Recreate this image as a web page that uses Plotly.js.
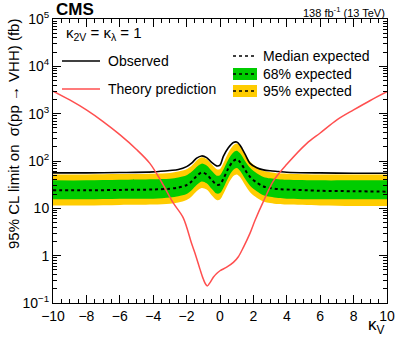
<!DOCTYPE html>
<html>
<head>
<meta charset="utf-8">
<script src="https://cdn.plot.ly/plotly-3.0.1.min.js"></script>
<style>html,body{margin:0;padding:0;background:#fff;}#chart{width:399px;height:338px;}</style>
</head>
<body>
<div id="chart"></div>
<script>
// kappa_V scan points for the limits
const kv       = [-10,-8,-6,-4,-3,-2.5,-2,-1.7,-1.4,-1.1,-0.8,-0.5,-0.2,0.0,0.2,0.5,0.8,1.0,1.2,1.5,1.8,2.2,2.6,3.0,3.5,4,6,8,10];
const observed = [56,56,57,59,63,66,76,90,115,128,118,93,79,82,125,190,245,252,215,140,89,72,65,62,60,58,56,55,55];
const median   = [24,24,24.5,25,26,27.5,31,37,48,57,52,40,31.5,32,42,70,100,108,95,65,46,35,29,27,25.5,25,23.5,23,22.5];
const band68Hi = [39,39,40,41,42,45,50,59,75,88,80,62,49,50,65,108,152,165,145,100,72,55,46,43,41,40,39,39,39];
const band68Lo = [15.5,15.5,16,16,17,18,20,24,31,37,34,26,20.5,21,27,45,65,71,62,42,30,23,19,17.5,16.5,16,15.5,15.5,15.5];
const band95Hi = [52,52,53,54,56,60,67,79,102,120,110,85,67,68,90,150,215,235,205,140,98,75,62,58,55,54,52,52,52];
const band95Lo = [11.5,11.5,11.8,12,12.5,13.3,15,17.8,23,27,25,19,15,15.3,20,33,48,52,46,31,22,16.8,14,13,12.3,12,11.5,11.2,11.2];
// theory prediction
const kvTh   = [-10,-9,-8,-7,-6,-5,-4.2,-3.5,-2.8,-2.2,-1.7,-1.45,-1.2,-1.0,-0.85,-0.75,-0.6,-0.4,-0.2,0.0,0.4,0.8,1.1,1.4,1.8,2.1,2.6,3.2,4.0,5.2,6,7,8,9,10];
const theory = [3000,1950,1200,680,360,175,89,36,13,6.3,1.8,1.0,0.52,0.32,0.245,0.23,0.27,0.35,0.42,0.48,0.57,0.72,0.95,1.5,3.0,5.6,14,38,85,236,390,740,1200,1900,2900];
// axis ticks
const yTickVals = [0.1,1,10,100,1000,10000,100000];
const yTickText = ['10<sup>−1</sup>','1','10','10<sup>2</sup>','10<sup>3</sup>','10<sup>4</sup>','10<sup>5</sup>'];
const xTickVals = [-10,-8,-6,-4,-2,0,2,4,6,8,10];
const xTickText = ['−10','−8','−6','−4','−2','0','2','4','6','8','10'];

const yMinor = [];
for (let e = -1; e < 5; e++) for (let d = 2; d <= 9; d++) yMinor.push(d * Math.pow(10, e));

const GREEN = '#00cc00', YELLOW = '#ffcc00', RED = '#ff4f4f';
const FONT = 'Liberation Sans, Arial, sans-serif';
const sp = {shape:'spline', smoothing:0.9};

const traces = [
  {x: kv, y: band95Lo, mode:'lines', line:Object.assign({width:0, color:YELLOW}, sp), showlegend:false, hoverinfo:'skip'},
  {x: kv, y: band95Hi, mode:'lines', line:Object.assign({width:0, color:YELLOW}, sp), fill:'tonexty', fillcolor:YELLOW, showlegend:false},
  {x: kv, y: band68Lo, mode:'lines', line:Object.assign({width:0, color:GREEN}, sp), showlegend:false, hoverinfo:'skip'},
  {x: kv, y: band68Hi, mode:'lines', line:Object.assign({width:0, color:GREEN}, sp), fill:'tonexty', fillcolor:GREEN, showlegend:false},
  {x: kv, y: median, mode:'lines', line:Object.assign({width:2, color:'black', dash:'dot'}, sp), showlegend:false},
  {x: kv, y: observed, mode:'lines', line:Object.assign({width:1.6, color:'black'}, sp), showlegend:false},
  {x: kvTh, y: theory, mode:'lines', line:Object.assign({width:1.5, color:RED}, sp), showlegend:false}
];

const px = v => (v - 53) / 334;
const py = v => (303 - v) / 284;

const shapes = [
  {type:'line', xref:'paper', yref:'paper', x0:px(62), x1:px(100), y0:py(61), y1:py(61), line:{color:'black', width:1.6}},
  {type:'line', xref:'paper', yref:'paper', x0:px(62), x1:px(100), y0:py(89), y1:py(89), line:{color:RED, width:1.5}},
  {type:'line', xref:'paper', yref:'paper', x0:px(233), x1:px(257), y0:py(56), y1:py(56), line:{color:'black', width:1.5, dash:'dot'}},
  {type:'rect', xref:'paper', yref:'paper', x0:px(233), x1:px(257), y0:py(80), y1:py(68), fillcolor:GREEN, line:{width:0}},
  {type:'line', xref:'paper', yref:'paper', x0:px(233), x1:px(257), y0:py(74), y1:py(74), line:{color:'black', width:1.5, dash:'dot'}},
  {type:'rect', xref:'paper', yref:'paper', x0:px(233), x1:px(257), y0:py(97), y1:py(85), fillcolor:YELLOW, line:{width:0}},
  {type:'line', xref:'paper', yref:'paper', x0:px(233), x1:px(257), y0:py(91), y1:py(91), line:{color:'black', width:1.5, dash:'dot'}}
];

const ann = (x, y, text, size, extra) => Object.assign({xref:'paper', yref:'paper', x:x, y:y, text:text, showarrow:false, xanchor:'left', yanchor:'middle', font:{family:FONT, size:size, color:'black'}}, extra || {});

const annotations = [
  ann(px(54), py(10), '<b>CMS</b>', 17),
  ann(1, py(12), '138 fb<sup>-1</sup> (13 TeV)', 11, {xanchor:'right'}),
  ann(px(64), py(33), 'κ<sub>2V</sub> = κ<sub>λ</sub> = 1', 15),
  ann(px(106), py(61), 'Observed', 14),
  ann(px(106), py(89), 'Theory prediction', 14),
  ann(px(261), py(56), 'Median expected', 14),
  ann(px(261), py(74), '68% expected', 14),
  ann(px(261), py(91), '95% expected', 14),
  ann(1, py(326), 'κ<sub>V</sub>', 17, {xanchor:'right'}),
  ann(px(13), py(17), '95% CL limit on\u00a0\u00a0σ(pp → VHH) (fb)', 15, {xanchor:'center', yanchor:'top', textangle:-90})
];

const layout = {
  width:399, height:338,
  margin:{l:53, r:12, t:19, b:35},
  paper_bgcolor:'white', plot_bgcolor:'white',
  showlegend:false,
  font:{family:FONT, size:14, color:'black'},
  xaxis:{range:[-10,10], tickvals:xTickVals, ticktext:xTickText, ticks:'inside', ticklen:8, tickcolor:'black',
         showline:true, linecolor:'black', linewidth:1, mirror:'allticks', showgrid:false, zeroline:false,
         minor:{dtick:0.5, ticks:'inside', ticklen:4, tickcolor:'black', showgrid:false},
         tickfont:{family:FONT, size:14}},
  yaxis:{type:'log', range:[-1,5], tickvals:yTickVals, ticktext:yTickText, ticks:'inside', ticklen:8, tickcolor:'black',
         showline:true, linecolor:'black', linewidth:1, mirror:'allticks', showgrid:false, zeroline:false,
         minor:{tickvals:yMinor, ticks:'inside', ticklen:4, tickcolor:'black', showgrid:false},
         tickfont:{family:FONT, size:14}},
  shapes:shapes,
  annotations:annotations
};

Plotly.newPlot('chart', traces, layout, {staticPlot:true, displayModeBar:false});
</script>
</body>
</html>
